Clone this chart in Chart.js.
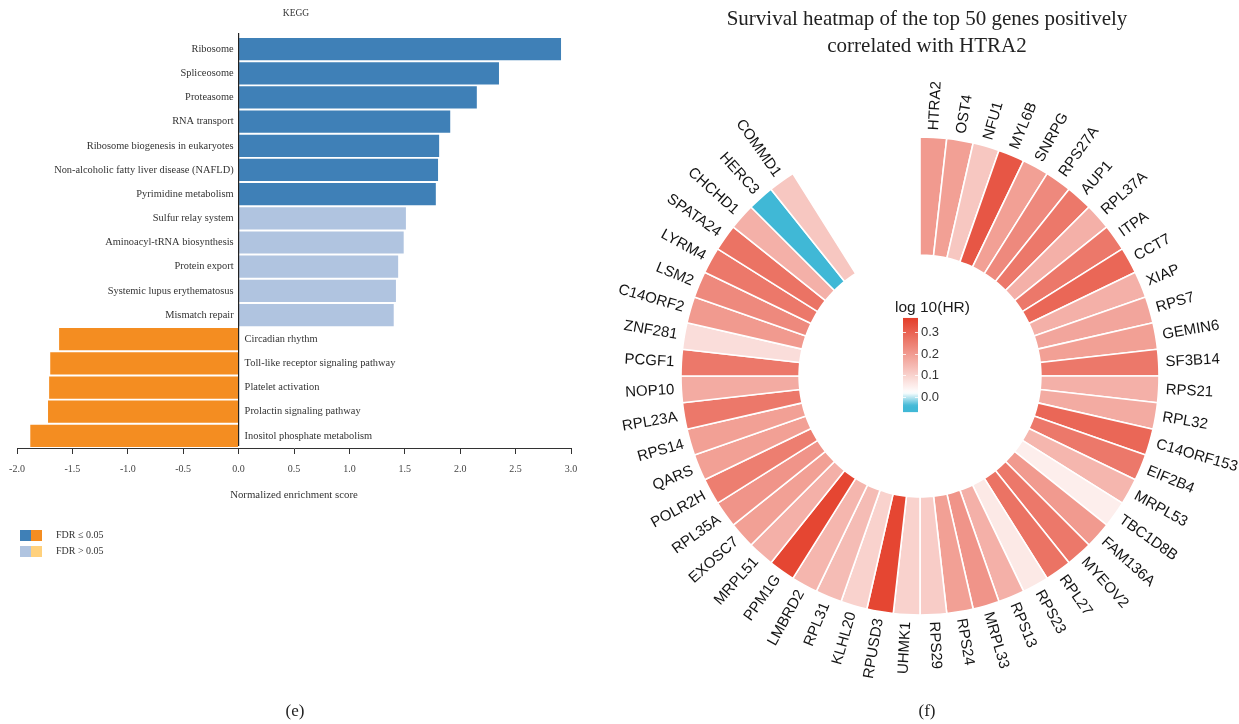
<!DOCTYPE html>
<html>
<head>
<meta charset="utf-8">
<title>KEGG enrichment and HTRA2 survival heatmap</title>
<script src="https://cdn.jsdelivr.net/npm/chart.js@4.4.1/dist/chart.umd.min.js"></script>
<style>
    html, body {margin: 0; padding: 0; background: #ffffff;}
    #page-container {position: relative; width: 1239px; height: 724px; overflow: hidden;}
    #page-container canvas {position: absolute; left: 0; top: 0;}
</style>
</head>
<body>
<div id="page-container">
    <canvas id="keggChart" width="1239" height="724"></canvas>
    <canvas id="heatmapChart" width="1239" height="724"></canvas>
</div>
<script>
// KEGG pathways, normalized enrichment score (NES) and FDR <= 0.05 flag
const pathways = [
    "Ribosome", "Spliceosome", "Proteasome", "RNA transport",
    "Ribosome biogenesis in eukaryotes", "Non-alcoholic fatty liver disease (NAFLD)",
    "Pyrimidine metabolism", "Sulfur relay system", "Aminoacyl-tRNA biosynthesis",
    "Protein export", "Systemic lupus erythematosus", "Mismatch repair",
    "Circadian rhythm", "Toll-like receptor signaling pathway", "Platelet activation",
    "Prolactin signaling pathway", "Inositol phosphate metabolism"
];
const nesValues = [2.91, 2.35, 2.15, 1.91, 1.81, 1.80, 1.78, 1.51, 1.49, 1.44, 1.42, 1.40,
    -1.62, -1.70, -1.71, -1.72, -1.88];
const fdrSignificant = [true, true, true, true, true, true, true, false, false, false, false, false,
    true, true, true, true, true];
const nesMin = -2.0;
const nesMax = 3.0;
const nesStep = 0.5;

// genes around the ring, clockwise from the top, and their log10(HR)
const genes = [
    "HTRA2", "OST4", "NFU1", "MYL6B", "SNRPG", "RPS27A", "AUP1", "RPL37A", "ITPA", "CCT7",
    "XIAP", "RPS7", "GEMIN6", "SF3B14", "RPS21", "RPL32", "C14ORF153", "EIF2B4", "MRPL53", "TBC1D8B",
    "FAM136A", "MYEOV2", "RPL27", "RPS23", "RPS13", "MRPL33", "RPS24", "RPS29", "UHMK1", "RPUSD3",
    "KLHL20", "RPL31", "LMBRD2", "PPM1G", "MRPL51", "EXOSC7", "RPL35A", "POLR2H", "QARS", "RPS14",
    "RPL23A", "NOP10", "PCGF1", "ZNF281", "C14ORF2", "LSM2", "LYRM4", "SPATA24", "CHCHD1", "HERC3",
    "COMMD1"
];
const log10HR = [
    0.20, 0.19, 0.12, 0.32, 0.19, 0.23, 0.26, 0.16, 0.26, 0.29,
    0.16, 0.18, 0.19, 0.26, 0.16, 0.17, 0.29, 0.26, 0.15, 0.05,
    0.20, 0.26, 0.27, 0.06, 0.16, 0.21, 0.19, 0.11, 0.10, 0.35,
    0.10, 0.14, 0.15, 0.35, 0.16, 0.19, 0.21, 0.25, 0.19, 0.19,
    0.26, 0.17, 0.26, 0.08, 0.20, 0.23, 0.26, 0.27, 0.16, -0.05,
    0.12
];
const hrTicks = [0.0, 0.1, 0.2, 0.3];
// empty slots left open at the top of the ring
const gapSlots = 5;

const serif = "'Liberation Serif', 'Times New Roman', serif";
const sans = "'Liberation Sans', Arial, sans-serif";

function barColor(value, significant) {
    if (value >= 0) return significant ? "#3f80b7" : "#b0c4e0";
    return significant ? "#f48d21" : "#ffd17d";
}

// blue -> white -> red fill for log10(HR)
const hrLow = -0.04, hrMid = 0.02, hrHigh = 0.36;
const lowRgb = [64, 184, 214];
const highRgb = [228, 64, 44];
function heatColor(v) {
    let t, rgb;
    if (v >= hrMid) {
        t = Math.min((v - hrMid) / (hrHigh - hrMid), 1);
        rgb = highRgb;
    }
    else {
        t = Math.min((hrMid - v) / (hrMid - hrLow), 1);
        rgb = lowRgb;
    }
    let c = rgb.map(function(ch){ return Math.round(255 + (ch - 255) * t); });
    return "rgb(" + c.join(",") + ")";
}

//pathway names next to the zero line, title and FDR legend
const keggDecor = {
    id: "keggDecor",
    afterDatasetsDraw: function(chart) {
        let ctx = chart.ctx;
        let meta = chart.getDatasetMeta(0);
        let zeroX = chart.scales.x.getPixelForValue(0);
        ctx.save();
        ctx.font = "10.4px " + serif;
        ctx.fillStyle = "#333";
        ctx.textBaseline = "middle";
        meta.data.forEach(function(bar, i) {
            if (nesValues[i] >= 0) {
                ctx.textAlign = "right";
                ctx.fillText(pathways[i], zeroX - 5, bar.y);
            }
            else {
                ctx.textAlign = "left";
                ctx.fillText(pathways[i], zeroX + 6, bar.y);
            }
        });
        //zero line
        ctx.strokeStyle = "#222";
        ctx.lineWidth = 1.2;
        ctx.beginPath();
        ctx.moveTo(zeroX, chart.chartArea.top - 4);
        ctx.lineTo(zeroX, chart.chartArea.bottom - 2);
        ctx.stroke();
        ctx.restore();
    },
    afterDraw: function(chart) {
        let ctx = chart.ctx;
        let area = chart.chartArea;
        ctx.save();
        ctx.fillStyle = "#333";
        ctx.textBaseline = "middle";
        ctx.textAlign = "center";
        ctx.font = "9.5px " + serif;
        ctx.fillText("KEGG", (area.left + area.right) / 2 + 2, 13);

        //legend
        let rows = [
            {colors: [barColor(1, true), barColor(-1, true)], text: "FDR \u2264 0.05", y: 530},
            {colors: [barColor(1, false), barColor(-1, false)], text: "FDR > 0.05", y: 546}
        ];
        ctx.textAlign = "left";
        ctx.font = "10px " + serif;
        rows.forEach(function(row) {
            ctx.fillStyle = row.colors[0];
            ctx.fillRect(20, row.y, 11, 11);
            ctx.fillStyle = row.colors[1];
            ctx.fillRect(31, row.y, 11, 11);
            ctx.fillStyle = "#333";
            ctx.fillText(row.text, 56, row.y + 5.5);
        });

        ctx.font = "17px " + serif;
        ctx.textAlign = "center";
        ctx.fillStyle = "#222";
        ctx.fillText("(e)", 295, 712);
        ctx.restore();
    }
};

//gene names around the ring, colour bar and title
const heatDecor = {
    id: "heatDecor",
    afterDatasetsDraw: function(chart) {
        let ctx = chart.ctx;
        let meta = chart.getDatasetMeta(0);
        ctx.save();
        ctx.font = "15px " + sans;
        ctx.fillStyle = "#141414";
        ctx.textBaseline = "middle";
        genes.forEach(function(gene, i) {
            let arc = meta.data[i];
            let angle = (arc.startAngle + arc.endAngle) / 2;
            let r = arc.outerRadius + 7;
            ctx.save();
            ctx.translate(arc.x + Math.cos(angle) * r, arc.y + Math.sin(angle) * r);
            //left half is turned round so the names stay readable
            if (Math.cos(angle) < 0) {
                ctx.rotate(angle + Math.PI);
                ctx.textAlign = "right";
            }
            else {
                ctx.rotate(angle);
                ctx.textAlign = "left";
            }
            ctx.fillText(gene, 0, 0);
            ctx.restore();
        });
        ctx.restore();
    },
    afterDraw: function(chart) {
        let ctx = chart.ctx;
        ctx.save();

        //colour bar
        let barX = 903, barW = 15;
        let zeroY = 397, pxPerUnit = 216;
        let vTop = 0.366, vBottom = -0.07;
        let yTop = zeroY - vTop * pxPerUnit;
        let yBottom = zeroY - vBottom * pxPerUnit;
        let grad = ctx.createLinearGradient(0, yTop, 0, yBottom);
        for (let k = 0; k <= 40; k++) {
            let v = vTop - (vTop - vBottom) * k / 40;
            grad.addColorStop(k / 40, heatColor(v));
        }
        ctx.fillStyle = grad;
        ctx.fillRect(barX, yTop, barW, yBottom - yTop);

        ctx.strokeStyle = "rgba(255,255,255,0.8)";
        ctx.lineWidth = 1;
        ctx.font = "13px " + sans;
        ctx.textAlign = "left";
        ctx.textBaseline = "middle";
        hrTicks.forEach(function(t) {
            let y = Math.round(zeroY - t * pxPerUnit) + 0.5;
            ctx.beginPath();
            ctx.moveTo(barX, y);
            ctx.lineTo(barX + 3, y);
            ctx.moveTo(barX + barW - 3, y);
            ctx.lineTo(barX + barW, y);
            ctx.stroke();
            ctx.fillStyle = "#333";
            ctx.fillText(t.toFixed(1), barX + barW + 3, y);
        });
        ctx.font = "15.5px " + sans;
        ctx.fillStyle = "#1a1a1a";
        ctx.fillText("log 10(HR)", 895, 308);

        //title
        ctx.textAlign = "center";
        ctx.font = "21px " + serif;
        ctx.fillStyle = "#222";
        ctx.fillText("Survival heatmap of the top 50 genes positively", 927, 19);
        ctx.fillText("correlated with HTRA2", 927, 46);

        ctx.font = "17px " + serif;
        ctx.fillText("(f)", 927, 712);
        ctx.restore();
    }
};

const keggChart = new Chart(document.getElementById("keggChart"), {
    type: "bar",
    data: {
        labels: pathways,
        datasets: [{
            data: nesValues,
            backgroundColor: nesValues.map(function(v, i){ return barColor(v, fdrSignificant[i]); }),
            borderWidth: 0,
            barPercentage: 0.92,
            categoryPercentage: 1.0,
        }]
    },
    options: {
        indexAxis: "y",
        responsive: false,
        animation: false,
        devicePixelRatio: 1,
        events: [],
        layout: {padding: {left: 17, right: 668, top: 37, bottom: 214}},
        plugins: {
            legend: {display: false},
            tooltip: {enabled: false},
        },
        scales: {
            x: {
                min: nesMin,
                max: nesMax,
                ticks: {
                    stepSize: nesStep,
                    autoSkip: false,
                    maxRotation: 0,
                    padding: 9,
                    color: "#444",
                    font: {family: serif, size: 10},
                    callback: function(v){ return Number(v).toFixed(1); },
                },
                grid: {drawOnChartArea: false, drawTicks: true, tickLength: 6, tickColor: "#333", tickWidth: 1},
                border: {display: true, color: "#333", width: 1},
                title: {
                    display: true,
                    text: "Normalized enrichment score",
                    color: "#333",
                    font: {family: serif, size: 10.8},
                    padding: {top: 0, bottom: 8},
                },
                afterFit: function(scale){ scale.height = 62; },
            },
            y: {display: false},
        }
    },
    plugins: [keggDecor]
});

const heatmapChart = new Chart(document.getElementById("heatmapChart"), {
    type: "doughnut",
    data: {
        labels: genes.concat([""]),
        datasets: [{
            data: genes.map(function(){ return 1; }).concat([gapSlots]),
            backgroundColor: log10HR.map(heatColor).concat(["rgba(0,0,0,0)"]),
            borderColor: "#ffffff",
            borderWidth: genes.map(function(){ return 1.6; }).concat([0]),
            radius: 239,
            cutout: 121,
        }]
    },
    options: {
        responsive: false,
        animation: false,
        devicePixelRatio: 1,
        events: [],
        layout: {padding: {left: 680, right: 79, top: 136, bottom: 108}},
        plugins: {
            legend: {display: false},
            tooltip: {enabled: false},
        },
    },
    plugins: [heatDecor]
});
</script>
</body>
</html>
